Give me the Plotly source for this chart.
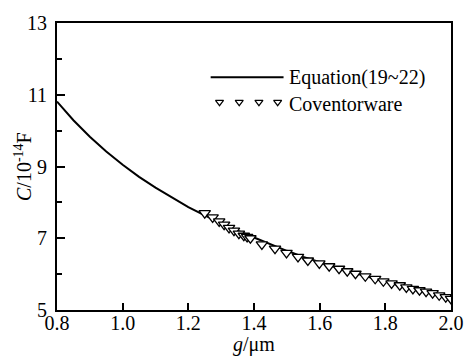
import plotly.graph_objects as go

# Equation(19~22) curve
eq_g = [0.80, 0.85, 0.90, 0.95, 1.00, 1.05, 1.10, 1.15, 1.20, 1.25, 1.30, 1.35, 1.40,
        1.45, 1.50, 1.55, 1.60, 1.65, 1.70, 1.75, 1.80, 1.85, 1.90, 1.95, 2.00]
eq_c = [10.81, 10.29, 9.83, 9.42, 9.05, 8.71, 8.41, 8.13, 7.87, 7.64, 7.42, 7.21, 7.02,
        6.83, 6.65, 6.48, 6.33, 6.19, 6.05, 5.92, 5.79, 5.67, 5.56, 5.45, 5.34]

# Coventorware simulation points
cw_g = [1.250, 1.274, 1.294, 1.309, 1.324, 1.339, 1.354, 1.369, 1.379, 1.389, 1.424,
        1.464, 1.499, 1.534, 1.564, 1.599, 1.629, 1.659, 1.684, 1.709, 1.739, 1.769,
        1.794, 1.819, 1.844, 1.864, 1.884, 1.904, 1.924, 1.944, 1.964, 1.984, 2.000]
cw_c = [7.70, 7.58, 7.47, 7.38, 7.29, 7.21, 7.13, 7.07, 7.04, 7.00, 6.83,
        6.71, 6.59, 6.48, 6.38, 6.30, 6.22, 6.15, 6.08, 6.01, 5.94, 5.87,
        5.80, 5.74, 5.69, 5.63, 5.59, 5.55, 5.51, 5.47, 5.41, 5.36, 5.31]

x_ticks = [0.8, 1.0, 1.2, 1.4, 1.6, 1.8, 2.0]
x_labels = ["0.8", "1.0", "1.2", "1.4", "1.6", "1.8", "2.0"]
y_ticks = [5, 7, 9, 11, 13]
y_labels = ["5", "7", "9", "11", "13"]

legend_names = ["Equation(19~22)", "Coventorware"]

FONT = "Liberation Serif"
FS = 20
fig = go.Figure()

fig.add_trace(go.Scatter(
    x=eq_g, y=eq_c, mode="lines", line=dict(color="black", width=2),
    showlegend=False))
fig.add_trace(go.Scatter(
    x=cw_g, y=cw_c, mode="markers",
    marker=dict(symbol="triangle-down", size=10, color="white",
                line=dict(color="black", width=1.3)),
    showlegend=False))

# manual legend drawn on an overlay 0..1 axis
fig.add_trace(go.Scatter(
    x=[0.39, 0.575], y=[0.811, 0.811], mode="lines", xaxis="x2", yaxis="y2",
    line=dict(color="black", width=2), showlegend=False, hoverinfo="skip"))
fig.add_trace(go.Scatter(
    x=[0.4125, 0.4625, 0.5125, 0.56], y=[0.724] * 4, mode="markers",
    xaxis="x2", yaxis="y2",
    marker=dict(symbol="triangle-down", size=7, color="white",
                line=dict(color="black", width=1.2)),
    showlegend=False, hoverinfo="skip"))

fig.add_annotation(x=0.583, y=0.811, xref="paper", yref="paper", text=legend_names[0],
                   showarrow=False, xanchor="left", yanchor="middle",
                   font=dict(family=FONT, size=FS, color="black"))
fig.add_annotation(x=0.583, y=0.719, xref="paper", yref="paper", text=legend_names[1],
                   showarrow=False, xanchor="left", yanchor="middle",
                   font=dict(family=FONT, size=FS, color="black"))

# axis titles
fig.add_annotation(x=-0.0875, y=0.5, xref="paper", yref="paper",
                   text="<i>C</i>/10<sup>-14</sup>F", textangle=-90, showarrow=False,
                   xanchor="center", yanchor="middle",
                   font=dict(family=FONT, size=FS, color="black"))
fig.add_annotation(x=0.5, y=-0.119, xref="paper", yref="paper",
                   text="<i>g</i>/μm", showarrow=False,
                   xanchor="center", yanchor="middle",
                   font=dict(family=FONT, size=FS, color="black"))

fig.update_layout(
    width=476, height=356,
    margin=dict(l=57, r=19, t=17, b=46),
    paper_bgcolor="white", plot_bgcolor="white",
    font=dict(family=FONT, size=FS, color="black"),
    xaxis=dict(range=[0.8, 2.0], tickvals=x_ticks, ticktext=x_labels,
               ticks="inside", ticklen=7, tickwidth=1.5, tickcolor="black",
               showline=True, linecolor="black", linewidth=2, mirror=True,
               showgrid=False, zeroline=False, ticklabelstandoff=-6,
               tickfont=dict(family=FONT, size=FS, color="black")),
    yaxis=dict(range=[5, 13], tickvals=y_ticks, ticktext=y_labels,
               ticks="inside", ticklen=8, tickwidth=1.5, tickcolor="black",
               minor=dict(tickvals=[6, 8, 10, 12], ticks="inside", ticklen=5,
                          tickwidth=1.5, tickcolor="black", showgrid=False),
               showline=True, linecolor="black", linewidth=2, mirror=True,
               showgrid=False, zeroline=False, ticklabelstandoff=4,
               tickfont=dict(family=FONT, size=FS, color="black")),
    xaxis2=dict(range=[0, 1], overlaying="x", visible=False, fixedrange=True),
    yaxis2=dict(range=[0, 1], overlaying="y", visible=False, fixedrange=True),
    showlegend=False,
)

fig.write_html("out.html")
